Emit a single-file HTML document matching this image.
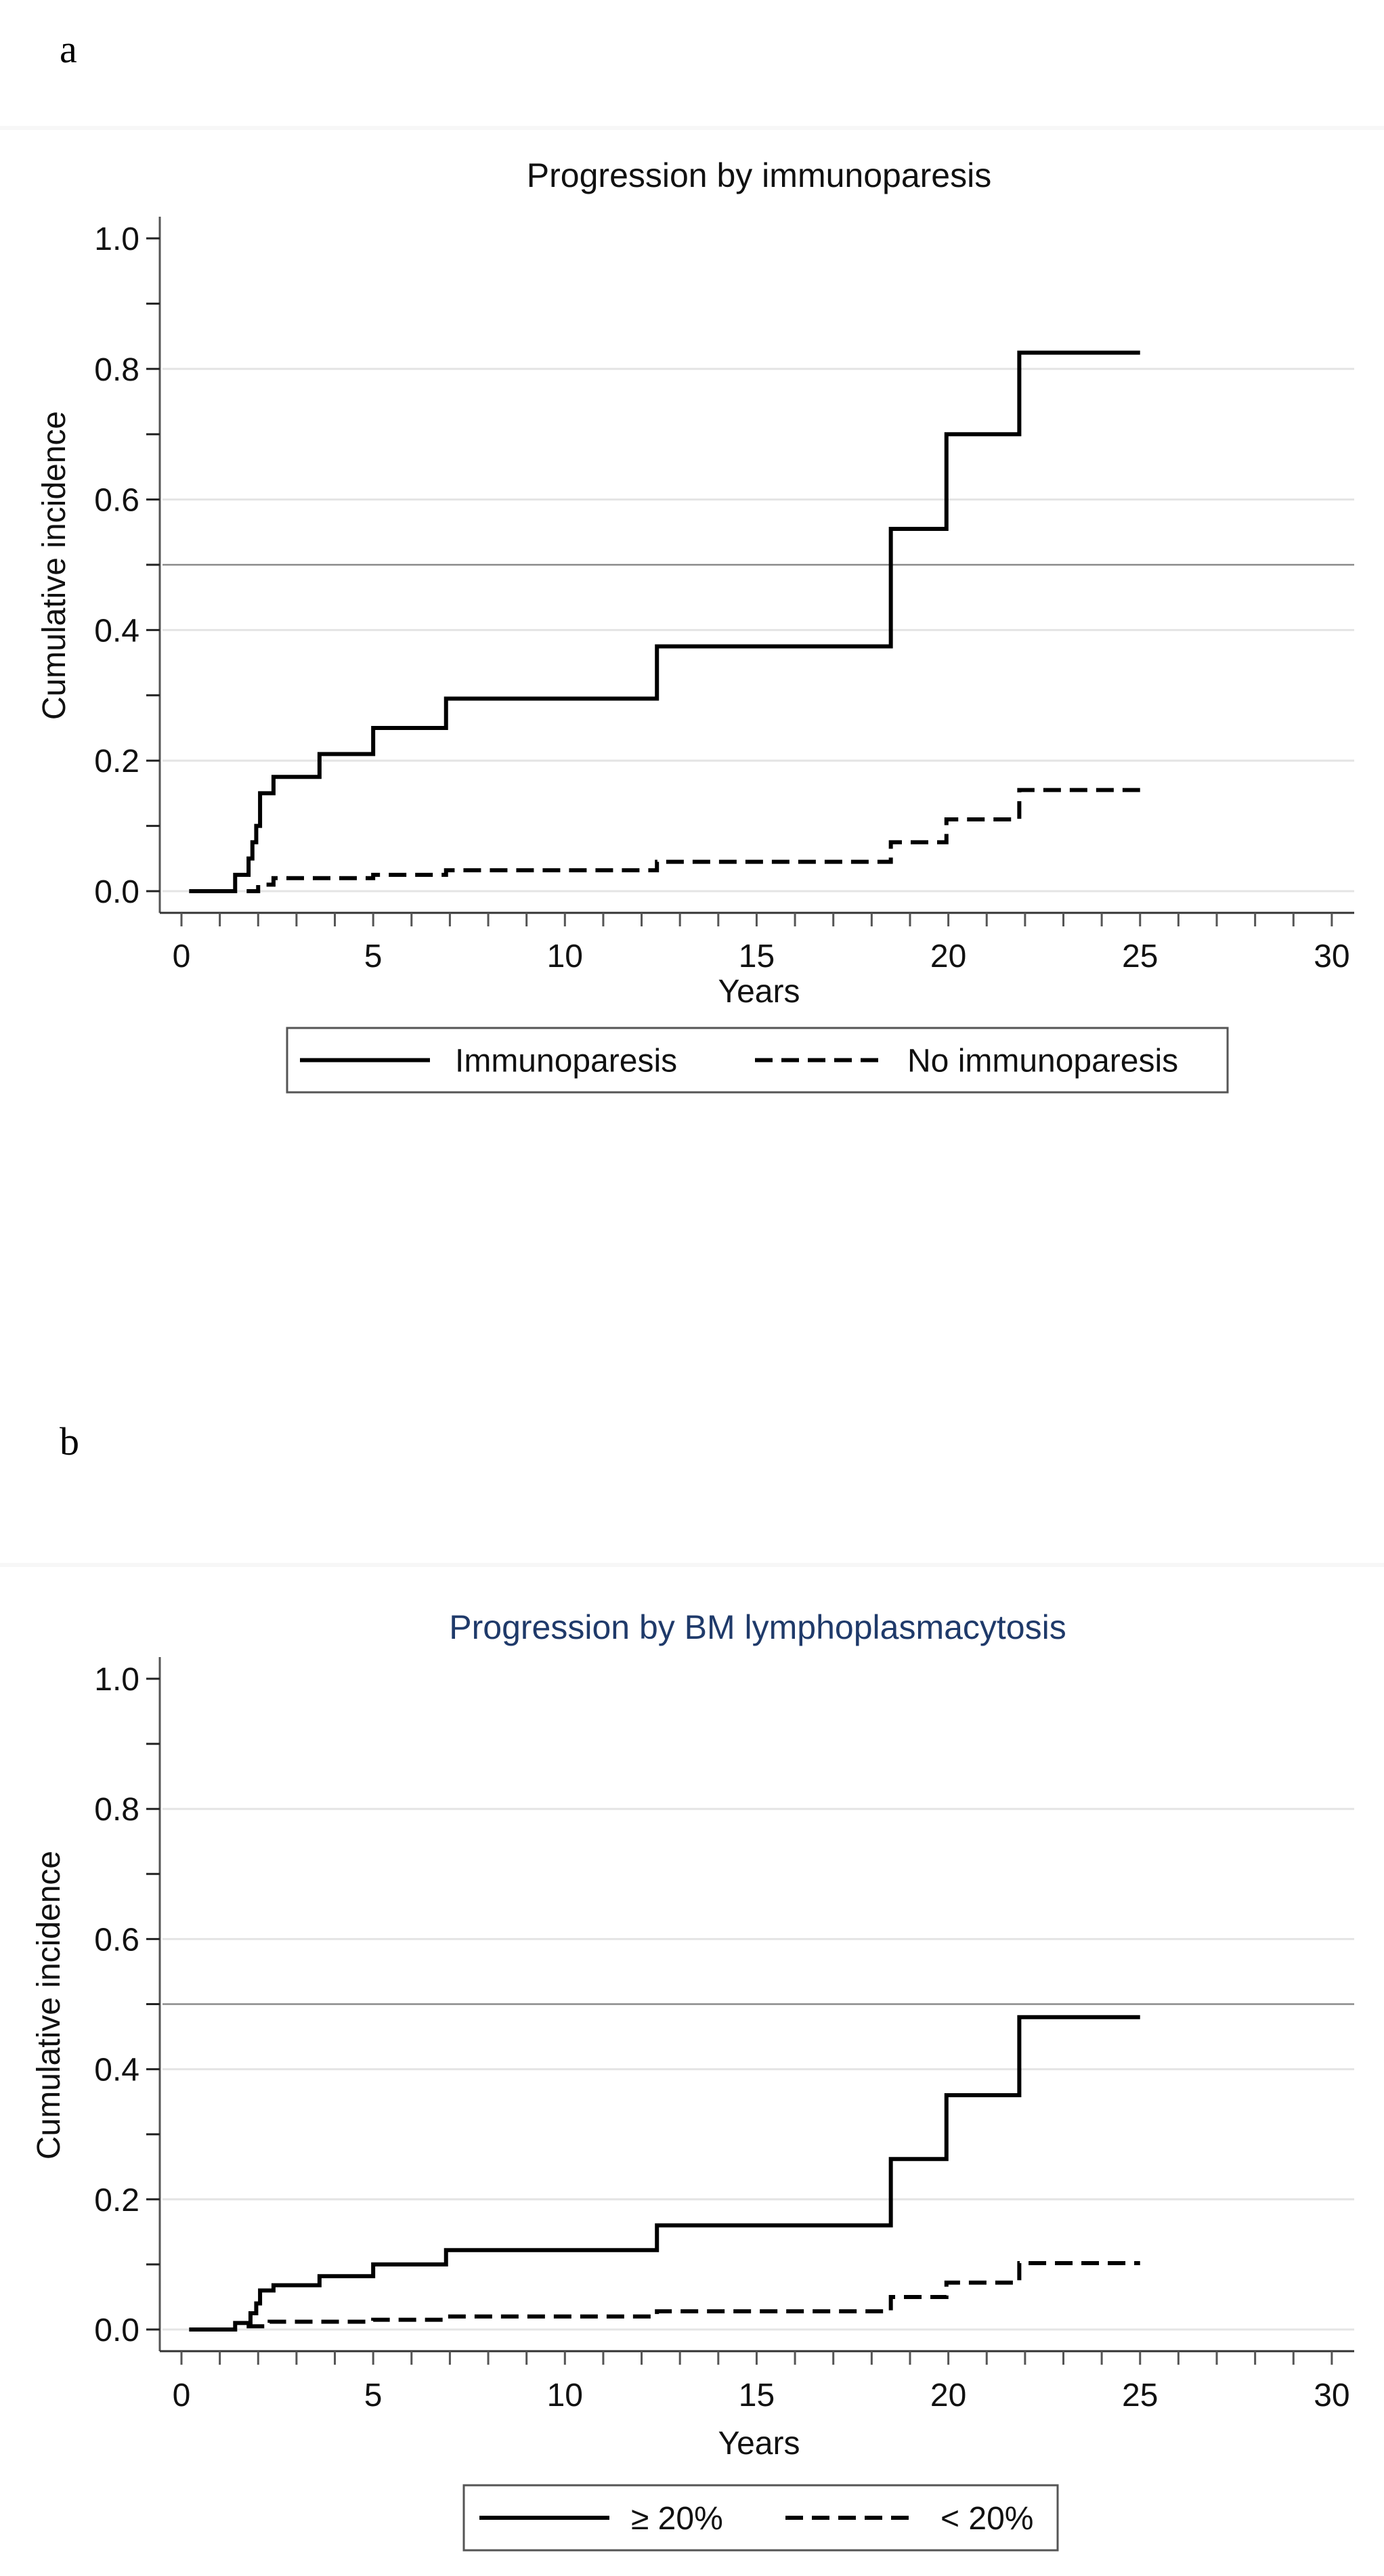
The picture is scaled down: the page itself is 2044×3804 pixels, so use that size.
<!DOCTYPE html>
<html><head><meta charset="utf-8"><style>
html,body{margin:0;padding:0;background:#fff;}
svg{display:block;}
text{font-family:"Liberation Sans",Arial,sans-serif;}
</style></head><body>
<svg id="s" width="2044" height="3804" viewBox="0 0 2044 3804">
<rect x="0" y="0" width="2044" height="3804" fill="#fff"/>
<text x="88" y="92" font-size="58" style="font-family:'Liberation Serif',serif">a</text>
<rect x="0" y="186" width="2044" height="6" fill="#f7f7f7"/>
<text x="1121" y="276" text-anchor="middle" font-size="50" fill="#111">Progression by immunoparesis</text>
<text x="88" y="2148" font-size="58" style="font-family:'Liberation Serif',serif">b</text>
<rect x="0" y="2308" width="2044" height="6" fill="#f7f7f7"/>
<text x="1119" y="2420" text-anchor="middle" font-size="50" fill="#1f3a6a">Progression by BM lymphoplasmacytosis</text>
<g id="ga"></g>
<g id="gb"></g>
</svg>
<script>
const xTicks=[0,5,10,15,20,25,30];
const yTicks=[0.0,0.2,0.4,0.6,0.8,1.0];
const aSolidT=[0.2,1.4,1.75,1.85,1.95,2.05,2.4,3.6,5,6.9,12.4,18.5,19.95,21.85,25];
const aSolidV=[0,0.025,0.05,0.075,0.1,0.15,0.175,0.21,0.25,0.295,0.375,0.555,0.7,0.825,0.825];
const aDashT=[1.7,2.0,2.4,5,6.9,12.4,18.5,19.95,21.85,25];
const aDashV=[0,0.01,0.02,0.025,0.032,0.045,0.075,0.11,0.155,0.155];
const bSolidT=[0.2,1.4,1.8,1.95,2.05,2.4,3.6,5,6.9,12.4,18.5,19.95,21.85,25];
const bSolidV=[0,0.01,0.025,0.04,0.06,0.068,0.082,0.1,0.122,0.16,0.262,0.36,0.48,0.48];
const bDashT=[1.7,2.3,5,6.9,12.4,18.5,19.95,21.85,25];
const bDashV=[0.005,0.012,0.015,0.02,0.028,0.05,0.072,0.102,0.102];
const NS='http://www.w3.org/2000/svg';
function mk(tag,attrs,parent){const e=document.createElementNS(NS,tag);for(const k in attrs)e.setAttribute(k,attrs[k]);parent.appendChild(e);return e;}
function chart(g,cfg){
  const X=v=>268+v*56.63;
  const Y=v=>cfg.y0-v*cfg.py;
  const top=cfg.y0-1.0*cfg.py-32, axY=cfg.y0+32;
  [0,0.2,0.4,0.6,0.8].forEach(v=>{
    const l=mk('line',{x1:240,x2:2000,y1:Y(v),y2:Y(v),stroke:'#e4e4e4','stroke-width':3},g);
    
    
  });
  const r=mk('line',{x1:240,x2:2000,y1:Y(0.5),y2:Y(0.5),stroke:'#8a8a8a','stroke-width':2.5},g);
  
  
  const ya=mk('line',{x1:236,x2:236,y1:top,y2:axY,stroke:'#555','stroke-width':3},g);
  
  
  const xa=mk('line',{x1:236,x2:2000,y1:axY,y2:axY,stroke:'#333','stroke-width':3},g);
  
  
  for(let i=0;i<=10;i++){const v=i/10;
    const t=mk('line',{x1:216,x2:236,y1:Y(v),y2:Y(v),stroke:'#222','stroke-width':3},g);
    
    }
  yTicks.forEach(v=>{const t=mk('text',{x:206,y:Y(v)+17,'text-anchor':'end','font-size':48,fill:'#111'},g);t.textContent=v.toFixed(1);
    
    });
  for(let i=0;i<=30;i++){
    const t=mk('line',{x1:X(i),x2:X(i),y1:axY,y2:axY+20,stroke:'#555','stroke-width':3},g);
    
    }
  xTicks.forEach(v=>{const t=mk('text',{x:X(v),y:cfg.tickY,'text-anchor':'middle','font-size':48,fill:'#111'},g);t.textContent=v;
    
    });
  const xt=mk('text',{x:1121,y:cfg.yearsY,'text-anchor':'middle','font-size':48,fill:'#111'},g);xt.textContent='Years';
  
  
  const yt=mk('text',{x:0,y:0,'text-anchor':'middle','font-size':48,fill:'#111',transform:`translate(${cfg.ylx},${cfg.yly}) rotate(-90)`},g);yt.textContent='Cumulative incidence';
  
  
  function step(T,V,dash,name){
    let d='M'+X(T[0])+' '+Y(V[0]);
    for(let i=1;i<T.length;i++){d+=' H'+X(T[i])+' V'+Y(V[i]);}
    const p=mk('path',{d:d,fill:'none',stroke:'#000','stroke-width':6,'stroke-dasharray':dash?'26 13':'none'},g);
    
    
  }
  step(cfg.sT,cfg.sV,false,cfg.sName);
  step(cfg.dT,cfg.dV,true,cfg.dName);
  const L=cfg.leg;
  const box=mk('rect',{x:L.x,y:L.y,width:L.w,height:L.h,fill:'#fff',stroke:'#555','stroke-width':3},g);
  
  
  const cy=L.y+L.h/2;
  const l1=mk('line',{x1:L.s1,x2:L.s1+192,y1:cy,y2:cy,stroke:'#000','stroke-width':6},g);
  
  
  const t1=mk('text',{x:L.t1,y:cy+17,'font-size':48,fill:'#111'},g);t1.textContent=L.n1;
  
  
  const l2=mk('line',{x1:L.s2,x2:L.s2+192,y1:cy,y2:cy,stroke:'#000','stroke-width':6,'stroke-dasharray':'26 13'},g);
  
  
  const t2=mk('text',{x:L.t2,y:cy+17,'font-size':48,fill:'#111'},g);t2.textContent=L.n2;
  
  
}
chart(document.getElementById('ga'),{y0:1316,py:964,tickY:1428,yearsY:1480,ylx:96,yly:835,
  sT:aSolidT,sV:aSolidV,dT:aDashT,dV:aDashV,sName:'line-immunoparesis',dName:'line-no-immunoparesis',
  leg:{x:424,y:1518,w:1389,h:95,s1:443,t1:672,s2:1115,t2:1340,n1:'Immunoparesis',n2:'No immunoparesis'}});
chart(document.getElementById('gb'),{y0:3440,py:961,tickY:3553,yearsY:3624,ylx:88,yly:2961,
  sT:bSolidT,sV:bSolidV,dT:bDashT,dV:bDashV,sName:'line-ge-20pct',dName:'line-lt-20pct',
  leg:{x:685,y:3670,w:877,h:96,s1:708,t1:932,s2:1160,t2:1389,n1:'\u2265 20%',n2:'< 20%'}});
</script>
</body></html>
